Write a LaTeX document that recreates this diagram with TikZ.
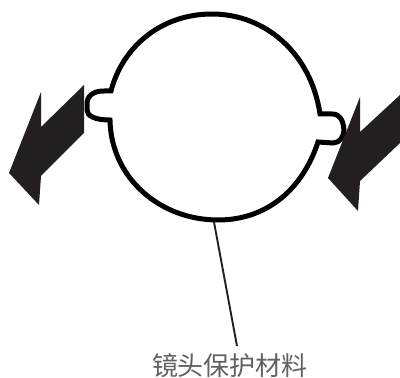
\documentclass[tikz,border=0pt]{standalone}
\usepackage{fontspec}
\newfontfamily\cjk{Noto Sans CJK SC}
\definecolor{ink}{HTML}{231F20}
\tikzset{
  lens/.style={line width=5pt,black,line join=miter},
  blockarrow/.style={fill=ink,draw=none},
  leader/.style={line width=1.9pt,draw=ink},
  caption/.style={font=\cjk\fontsize{26}{28}\selectfont,text=black!62,inner sep=0pt}
}
\begin{document}
\begin{tikzpicture}[x=1pt,y=1pt]
\useasboundingbox (0,0) rectangle (400,378);
\fill[white] (0,0) rectangle (400,378);
% lens outline with tabs
\draw[lens] (320,264) .. controls (311,325) and (265,364) .. (212,364)
  .. controls (160,364) and (122,330) .. (111,287)
  -- (104,287)
  .. controls (93,287) and (87,282) .. (87,274)
  -- (87,268)
  .. controls (87,262) and (95,258) .. (110,258)
  .. controls (111,200) and (160,158) .. (218,158)
  .. controls (268,158) and (303,190) .. (318,236)
  -- (333,235)
  .. controls (340,235) and (344,242) .. (344,248)
  .. controls (343,258) and (340,264) .. (332,264)
  -- cycle;
% arrows
\path[blockarrow] (84,293) -- (84,245) -- (41,202) -- (39,173) -- (9,205) -- (41,286) -- (41,251) -- cycle;
\path[blockarrow] (400,283) -- (400,235) -- (360,197) -- (358,167) -- (328,200) -- (360,281) -- (360,246) -- cycle;
\coordinate (lensbottom) at (214,156);
\node[caption] (label) at (230,12) {镜头保护材料};
\coordinate (leaderend) at (237,32);
\draw[leader] (lensbottom) -- (leaderend);
\end{tikzpicture}
\end{document}
